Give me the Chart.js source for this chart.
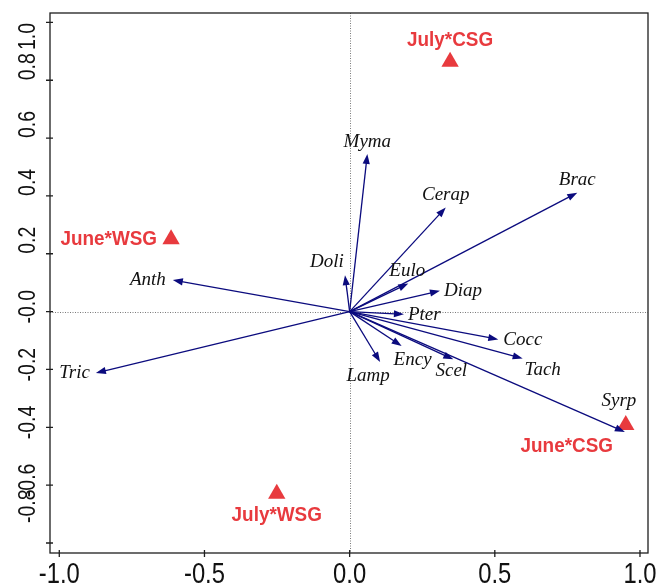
<!DOCTYPE html>
<html><head><meta charset="utf-8">
<script src="https://cdn.jsdelivr.net/npm/chart.js@4/dist/chart.umd.min.js"></script>
<style>html,body{margin:0;padding:0;background:#fff}canvas{display:block}</style>
</head><body>
<canvas id="c" width="659" height="587"></canvas>
<script>
// ---- data ----
const speciesNames = ['Myma','Cerap','Brac','Doli','Anth','Tric','Eulo','Diap','Pter','Cocc','Tach','Ency','Scel','Lamp','Syrp'];
const speciesX = [0.061, 0.331, 0.784, -0.016, -0.609, -0.874, 0.202, 0.311, 0.187, 0.512, 0.596, 0.179, 0.357, 0.105, 0.948];
const speciesY = [0.545, 0.360, 0.411, 0.126, 0.109, -0.212, 0.0975, 0.072, -0.009, -0.096, -0.162, -0.119, -0.165, -0.174, -0.416];
const siteNames = ['July*CSG','June*WSG','July*WSG','June*CSG'];
const siteX = [0.346, -0.615, -0.251, 0.951];
const siteY = [0.864, 0.250, -0.630, -0.392];
const xTickValues = [-1.0, -0.5, 0.0, 0.5, 1.0];
const xTickLabels = ['-1.0','-0.5','0.0','0.5','1.0'];
const yTickValues = [1.0, 0.8, 0.6, 0.4, 0.2, 0.0, -0.2, -0.4, -0.6, -0.8];
const yTickLabels = ['1.0','0.8','0.6','0.4','0.2','-0.0','-0.2','-0.4','-0.6','-0.8'];

// ---- styles / label placement (pixel offsets from the mark) ----
const RED = '#e83a3e';
const NAVY = '#0b0b7e';
const speciesPlacement = {
  Myma:['center',0,-12], Cerap:['center',0,-12], Brac:['center',0,-13], Doli:['center',-18,-13],
  Anth:['right',-7,0], Tric:['right',-6,0], Eulo:['center',-1,-12], Diap:['left',4,0],
  Pter:['left',4,1], Cocc:['left',5,1], Tach:['center',20,12], Ency:['center',11,14],
  Scel:['center',-2,12], Lamp:['center',-12,14], Syrp:['center',-6,-31]
};
const sitePlacement = {
  'July*CSG':['center',0,-22], 'June*WSG':['right',-14,0],
  'July*WSG':['center',0,21], 'June*CSG':['center',-59,21]
};

function drawArrow(ctx, x0, y0, x1, y1){
  const ang = Math.atan2(y1 - y0, x1 - x0);
  const L = 10, W = 3.6;
  const bx = x1 - Math.cos(ang) * L, by = y1 - Math.sin(ang) * L;
  ctx.beginPath();
  ctx.moveTo(x0, y0);
  ctx.lineTo(x1 - Math.cos(ang) * (L - 1), y1 - Math.sin(ang) * (L - 1));
  ctx.stroke();
  ctx.beginPath();
  ctx.moveTo(x1, y1);
  ctx.lineTo(bx + Math.sin(ang) * W, by - Math.cos(ang) * W);
  ctx.lineTo(bx - Math.sin(ang) * W, by + Math.cos(ang) * W);
  ctx.closePath();
  ctx.fill();
}

function drawScaledText(ctx, text, x, y, align, sx){
  ctx.save();
  ctx.translate(x, y);
  ctx.scale(sx, 1);
  ctx.textAlign = align;
  ctx.fillText(text, 0, 0);
  ctx.restore();
}

const biplot = {
  id: 'biplot',
  beforeDatasetsDraw(chart){
    const {ctx, chartArea: a, scales: {x, y}} = chart;
    const x0 = Math.round(x.getPixelForValue(0)) + 0.5;
    const y0 = Math.round(y.getPixelForValue(0)) + 0.5;
    ctx.save();
    ctx.strokeStyle = '#7a7a7a';
    ctx.lineWidth = 1;
    ctx.setLineDash([1, 1.5]);
    ctx.beginPath();
    ctx.moveTo(x0, a.top); ctx.lineTo(x0, a.bottom);
    ctx.moveTo(a.left, y0); ctx.lineTo(a.right, y0);
    ctx.stroke();
    ctx.restore();
  },
  afterDatasetsDraw(chart){
    const {ctx, chartArea: a, scales: {x, y}} = chart;
    const ox = x.getPixelForValue(0), oy = y.getPixelForValue(0);
    const spMeta = chart.getDatasetMeta(1);
    const siteMeta = chart.getDatasetMeta(0);
    ctx.save();
    // arrows
    ctx.strokeStyle = NAVY; ctx.fillStyle = NAVY; ctx.lineWidth = 1.3;
    spMeta.data.forEach((pt) => drawArrow(ctx, ox, oy, pt.x, pt.y));
    // species labels
    ctx.fillStyle = '#111';
    ctx.font = 'italic 19px "Liberation Serif", "DejaVu Serif", serif';
    ctx.textBaseline = 'middle';
    spMeta.data.forEach((pt, i) => {
      const p = speciesPlacement[speciesNames[i]];
      ctx.textAlign = p[0];
      ctx.fillText(speciesNames[i], pt.x + p[1], pt.y + p[2]);
    });
    // site labels
    ctx.fillStyle = RED;
    ctx.font = 'bold 21px "Liberation Sans", Arial, sans-serif';
    siteMeta.data.forEach((pt, i) => {
      const p = sitePlacement[siteNames[i]];
      drawScaledText(ctx, siteNames[i], pt.x + p[1], pt.y + p[2], p[0], 0.9);
    });
    // frame
    ctx.strokeStyle = '#1e1e1e'; ctx.lineWidth = 1.3;
    ctx.strokeRect(a.left, a.top, a.right - a.left, a.bottom - a.top);
    // ticks
    ctx.beginPath();
    xTickValues.forEach(v => {
      const px = x.getPixelForValue(v);
      ctx.moveTo(px, a.bottom - 3); ctx.lineTo(px, a.bottom + 4);
    });
    yTickValues.forEach(v => {
      const py = y.getPixelForValue(v);
      ctx.moveTo(a.left - 4, py); ctx.lineTo(a.left + 3, py);
    });
    ctx.stroke();
    // x tick labels
    ctx.fillStyle = '#111';
    ctx.textBaseline = 'alphabetic';
    ctx.font = '29px "Liberation Sans", Arial, sans-serif';
    xTickValues.forEach((v, i) => {
      drawScaledText(ctx, xTickLabels[i], x.getPixelForValue(v), a.bottom + 30, 'center', 0.82);
    });
    // y tick labels (rotated, reading upward)
    ctx.font = '23.5px "Liberation Sans", Arial, sans-serif';
    const sy = 0.83;
    yTickValues.forEach((v, i) => {
      const lab = yTickLabels[i];
      const len = ctx.measureText(lab).width * sy;
      let bottom = y.getPixelForValue(v) + (lab.startsWith('-') ? 12 : 0);
      if (bottom - len < a.top + 10) bottom = a.top + 10 + len;
      if (bottom > a.bottom - 30) bottom = a.bottom - 30;
      ctx.save();
      ctx.translate(a.left - 15, bottom);
      ctx.rotate(-Math.PI / 2);
      ctx.scale(sy, 1);
      ctx.textAlign = 'left';
      ctx.fillText(lab, 0, 0);
      ctx.restore();
    });
    ctx.restore();
  }
};

new Chart(document.getElementById('c'), {
  type: 'scatter',
  data: {
    datasets: [
      {
        label: 'Sites',
        data: siteX.map((v, i) => ({x: v, y: siteY[i]})),
        pointStyle: 'triangle', pointRadius: 10, pointHoverRadius: 10,
        backgroundColor: RED, borderColor: RED, borderWidth: 0
      },
      {
        label: 'Species',
        data: speciesX.map((v, i) => ({x: v, y: speciesY[i]})),
        pointRadius: 0, pointHoverRadius: 0, showLine: false
      }
    ]
  },
  options: {
    responsive: false, animation: false, devicePixelRatio: 1, events: [],
    layout: {padding: {left: 50, right: 11, top: 13, bottom: 34}},
    scales: {
      x: {type: 'linear', min: -1.032, max: 1.0276, display: false},
      y: {type: 'linear', min: -0.8346, max: 1.0325, display: false}
    },
    plugins: {legend: {display: false}, tooltip: {enabled: false}}
  },
  plugins: [biplot]
});
</script>
</body></html>
